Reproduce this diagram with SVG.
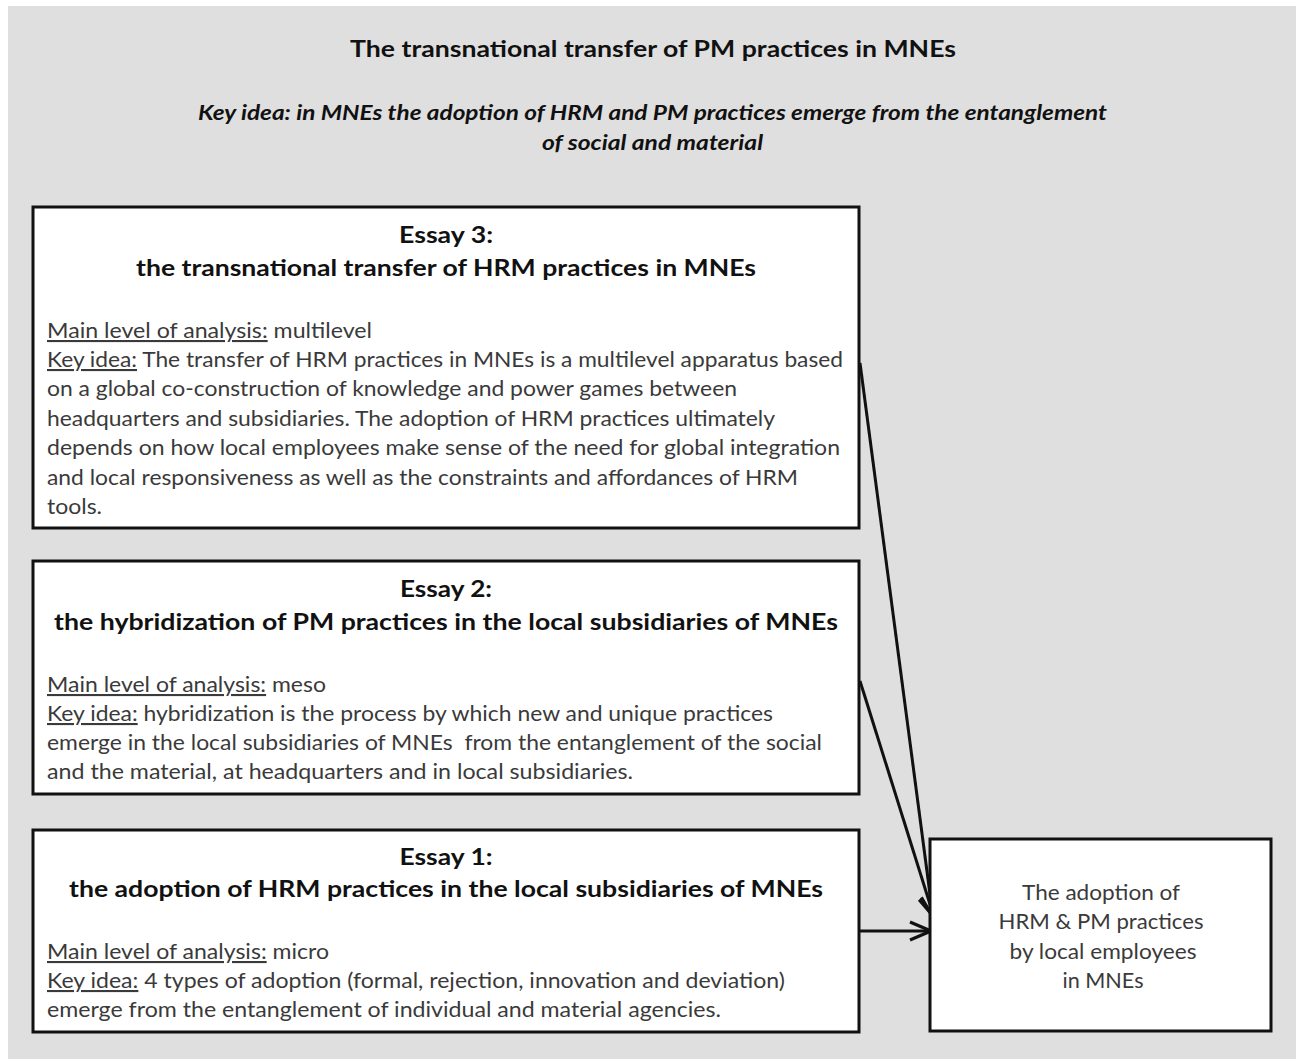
<svg xmlns="http://www.w3.org/2000/svg" width="1296" height="1059" viewBox="0 0 1296 1059">
<defs>
<style>
.bg{fill:#dfdfdf}
.box{fill:#ffffff;stroke:#111111;stroke-width:3}
.title{font-family:Lato,"Open Sans",sans-serif;font-weight:700;font-size:23px;fill:#111111;text-anchor:middle}
.sub{font-family:Lato,"Open Sans",sans-serif;font-weight:700;font-style:italic;font-size:21px;fill:#111111;text-anchor:middle}
.head{font-family:Lato,"Open Sans",sans-serif;font-weight:700;font-size:23px;fill:#111111;text-anchor:middle}
.body{font-family:Lato,"Open Sans",sans-serif;font-size:21px;fill:#3a3a3a}
.res{font-family:Lato,"Open Sans",sans-serif;font-size:21px;fill:#3a3a3a;text-anchor:middle}
.u{text-decoration:underline}
.conn{stroke:#111111;stroke-width:3;fill:none}
</style>
<marker id="arr" markerUnits="userSpaceOnUse" viewBox="0 0 26 22" markerWidth="26" markerHeight="22" refX="23" refY="11" orient="auto">
<path d="M2,2 L23,11 L2,20" fill="none" stroke="#111111" stroke-width="3.2" stroke-linejoin="miter"/>
</marker>
</defs>
<rect class="bg" x="8" y="6" width="1288" height="1053"/>
<g id="header">
<text class="title" x="653" y="57" textLength="606" lengthAdjust="spacingAndGlyphs">The transnational transfer of PM practices in MNEs</text>
<text class="sub" x="652.5" y="120" textLength="909" lengthAdjust="spacingAndGlyphs">Key idea: in MNEs the adoption of HRM and PM practices emerge from the entanglement</text>
<text class="sub" x="652.5" y="150" textLength="221" lengthAdjust="spacingAndGlyphs">of social and material</text>
</g>
<g id="connectors">
<line class="conn" x1="860" y1="363" x2="933" y2="917" marker-end="url(#arr)"/>
<line class="conn" x1="860" y1="681" x2="934" y2="917" marker-end="url(#arr)"/>
<line class="conn" x1="859" y1="931" x2="931" y2="931" marker-end="url(#arr)"/>
</g>
<g id="essay3">
<rect class="box" x="33" y="207" width="826" height="321"/>
<text class="head" x="446" y="243" textLength="94" lengthAdjust="spacingAndGlyphs">Essay 3:</text>
<text class="head" x="446" y="276" textLength="620" lengthAdjust="spacingAndGlyphs">the transnational transfer of HRM practices in MNEs</text>
<text class="body" x="47" y="338" textLength="325" lengthAdjust="spacingAndGlyphs"><tspan class="u">Main level of analysis:</tspan> multilevel</text>
<text class="body" x="47" y="367" textLength="796" lengthAdjust="spacingAndGlyphs"><tspan class="u">Key idea:</tspan> The transfer of HRM practices in MNEs is a multilevel apparatus based</text>
<text class="body" x="47" y="396" textLength="690" lengthAdjust="spacingAndGlyphs">on a global co-construction of knowledge and power games between</text>
<text class="body" x="47" y="426" textLength="728" lengthAdjust="spacingAndGlyphs">headquarters and subsidiaries. The adoption of HRM practices ultimately</text>
<text class="body" x="47" y="455" textLength="793" lengthAdjust="spacingAndGlyphs">depends on how local employees make sense of the need for global integration</text>
<text class="body" x="47" y="485" textLength="751" lengthAdjust="spacingAndGlyphs">and local responsiveness as well as the constraints and affordances of HRM</text>
<text class="body" x="47" y="514" textLength="55" lengthAdjust="spacingAndGlyphs">tools.</text>
</g>
<g id="essay2">
<rect class="box" x="33" y="561" width="826" height="233"/>
<text class="head" x="446" y="597" textLength="92" lengthAdjust="spacingAndGlyphs">Essay 2:</text>
<text class="head" x="446" y="630" textLength="784" lengthAdjust="spacingAndGlyphs">the hybridization of PM practices in the local subsidiaries of MNEs</text>
<text class="body" x="47" y="692" textLength="279" lengthAdjust="spacingAndGlyphs"><tspan class="u">Main level of analysis:</tspan> meso</text>
<text class="body" x="47" y="721" textLength="726" lengthAdjust="spacingAndGlyphs"><tspan class="u">Key idea:</tspan> hybridization is the process by which new and unique practices</text>
<text class="body" x="47" y="750" textLength="775" lengthAdjust="spacingAndGlyphs" xml:space="preserve">emerge in the local subsidiaries of MNEs  from the entanglement of the social</text>
<text class="body" x="47" y="779" textLength="586" lengthAdjust="spacingAndGlyphs">and the material, at headquarters and in local subsidiaries.</text>
</g>
<g id="essay1">
<rect class="box" x="33" y="830" width="826" height="202"/>
<text class="head" x="446" y="865" textLength="93" lengthAdjust="spacingAndGlyphs">Essay 1:</text>
<text class="head" x="446" y="897" textLength="754" lengthAdjust="spacingAndGlyphs">the adoption of HRM practices in the local subsidiaries of MNEs</text>
<text class="body" x="47" y="959" textLength="282" lengthAdjust="spacingAndGlyphs"><tspan class="u">Main level of analysis:</tspan> micro</text>
<text class="body" x="47" y="988" textLength="738" lengthAdjust="spacingAndGlyphs"><tspan class="u">Key idea:</tspan> 4 types of adoption (formal, rejection, innovation and deviation)</text>
<text class="body" x="47" y="1017" textLength="674" lengthAdjust="spacingAndGlyphs">emerge from the entanglement of individual and material agencies.</text>
</g>
<g id="outcome">
<rect class="box" x="930" y="839" width="341" height="192"/>
<text class="res" x="1101" y="900" textLength="158" lengthAdjust="spacingAndGlyphs">The adoption of</text>
<text class="res" x="1101" y="929" textLength="205" lengthAdjust="spacingAndGlyphs">HRM &amp; PM practices</text>
<text class="res" x="1103" y="959" textLength="187" lengthAdjust="spacingAndGlyphs">by local employees</text>
<text class="res" x="1103" y="988" textLength="81" lengthAdjust="spacingAndGlyphs">in MNEs</text>
</g>
</svg>
